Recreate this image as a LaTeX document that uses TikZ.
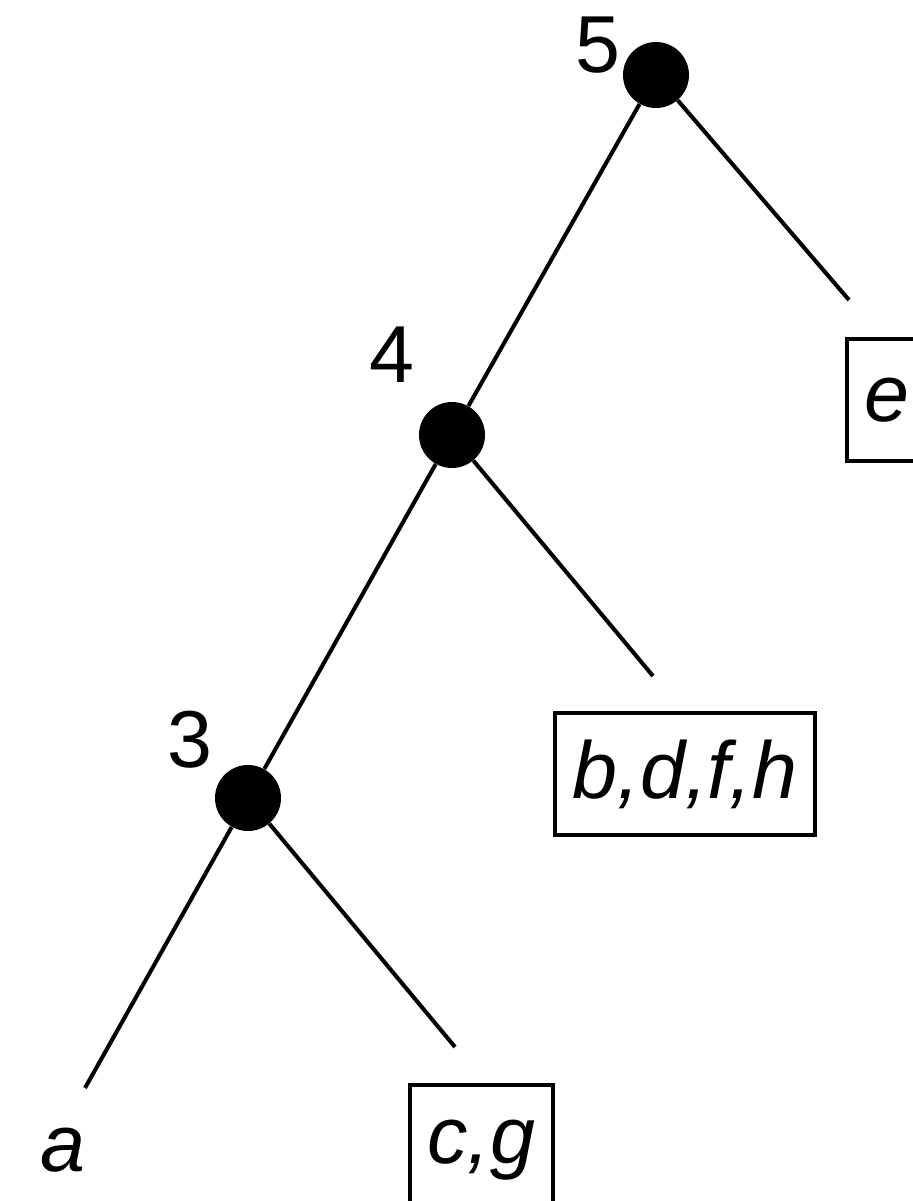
\documentclass[tikz,border=0pt]{standalone}
\usepackage{fontspec}
\setmainfont{Liberation Sans}
\usepackage{tikz}

\tikzset{
  dot/.style={circle,fill=black,inner sep=0pt,minimum size=1.32cm},
  leaf/.style={draw,line width=2.3pt,inner xsep=0.35cm,inner ysep=0pt,minimum height=2.44cm,
    font=\fontsize{46}{50}\selectfont\itshape},
  rank/.style={font=\fontsize{46}{50}\selectfont},
  branch/.style={line width=2.3pt}
}

\begin{document}
\begin{tikzpicture}[x=0.02cm,y=-0.02cm]
            \useasboundingbox (0,0) rectangle (913,1201);
            % inner vertices
            \node[dot] (n5) at (656,75) {};
            \node[dot] (n4) at (452,435) {};
            \node[dot] (n3) at (248,798) {};
            \node[rank] (l5) at (598,45) {5};
            \node[rank] (l4) at (392,355) {4};
            \node[rank] (l3) at (190,740) {3};
            % free ends of the branches
            \coordinate (t5) at (849,300);
            \coordinate (t4) at (653,676);
            \coordinate (t3) at (455,1047);
            \coordinate (ta) at (85,1088);
            \draw[branch] (n5) -- (n4) -- (n3) -- (ta);
            \draw[branch] (n5) -- (t5) (n4) -- (t4) (n3) -- (t3);
            % leaves
            \node[leaf,anchor=west] (e) at (845,400) {e};
            \node[leaf] (bdfh) at (685,774) {b,d,f,h};
            \node[leaf,anchor=north west,minimum height=2.6cm] (cg) at (408,1083) {c,g};
            \node[font=\fontsize{46}{50}\selectfont\itshape] (a) at (63,1150) {a};
        \end{tikzpicture}
\end{document}
